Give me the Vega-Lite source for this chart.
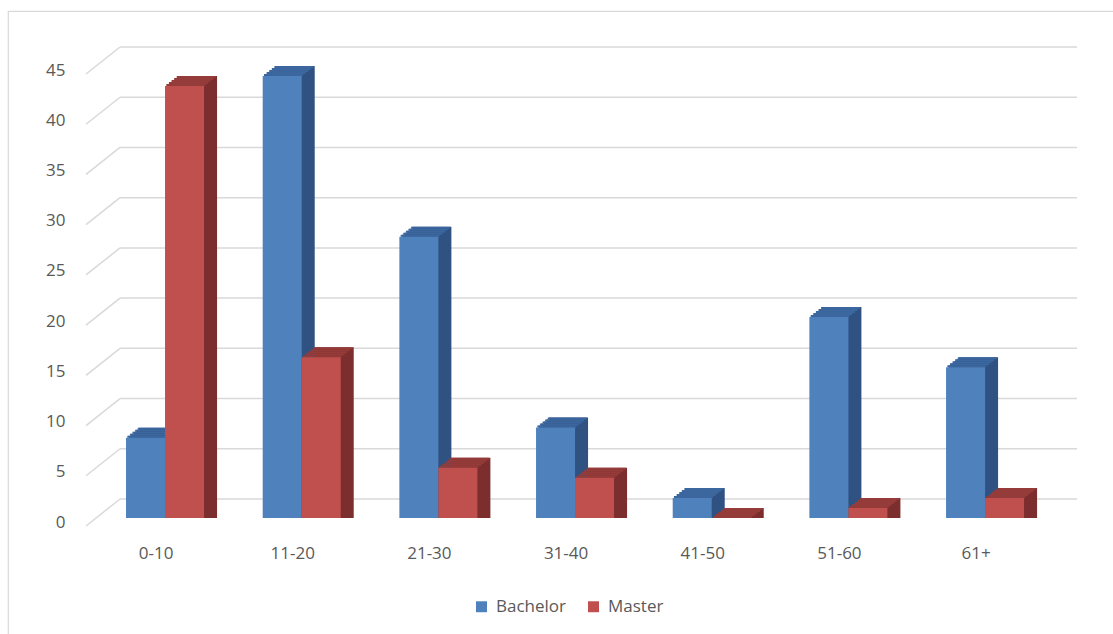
{
  "$schema": "https://vega.github.io/schema/vega-lite/v6.json",
  "width": 1110,
  "height": 628,
  "autosize": {"type": "none"},
  "padding": {"left": 8, "top": 11, "right": 0, "bottom": 0},
  "background": "white",
  "config": {
    "view": {"stroke": "#d9d9d9", "strokeWidth": 1.2},
    "font": "Open Sans",
    "axisX": {"domain": false, "ticks": false, "tickSize": 0, "grid": false, "labelPadding": 9, "offset": -103, "labelOffset": -9, "labelAngle": 0, "labelFontSize": 17, "labelColor": "#595959", "labelFont": "Open Sans"},
    "axisY": {"domain": false, "ticks": false, "tickSize": 0, "grid": false, "labelPadding": 1, "offset": -58, "labelOffset": 4, "labelFontSize": 17, "labelColor": "#595959", "labelFont": "Open Sans"}
  },
  "datasets": {
    "bars": [
      {"c": "0-10", "s": "Bachelor", "v": 8},
      {"c": "0-10", "s": "Master", "v": 43},
      {"c": "11-20", "s": "Bachelor", "v": 44},
      {"c": "11-20", "s": "Master", "v": 16},
      {"c": "21-30", "s": "Bachelor", "v": 28},
      {"c": "21-30", "s": "Master", "v": 5},
      {"c": "31-40", "s": "Bachelor", "v": 9},
      {"c": "31-40", "s": "Master", "v": 4},
      {"c": "41-50", "s": "Bachelor", "v": 2},
      {"c": "41-50", "s": "Master", "v": 0},
      {"c": "51-60", "s": "Bachelor", "v": 20},
      {"c": "51-60", "s": "Master", "v": 1},
      {"c": "61+", "s": "Bachelor", "v": 15},
      {"c": "61+", "s": "Master", "v": 2}
    ],
    "grid": [{"v": 0}, {"v": 5}, {"v": 10}, {"v": 15}, {"v": 20}, {"v": 25}, {"v": 30}, {"v": 35}, {"v": 40}, {"v": 45}]
  },
  "layer": [
    {
      "data": {"name": "grid"},
      "mark": {"type": "rule", "color": "#d9d9d9", "strokeWidth": 1.5, "xOffset": -6, "x2Offset": 53, "yOffset": -19},
      "encoding": {
        "x": {"datum": "0-10", "type": "nominal", "bandPosition": 0, "title": null, "scale": {"domain": ["0-10", "11-20", "21-30", "31-40", "41-50", "51-60", "61+"], "range": [88.7, 1045.4], "paddingInner": 0.429, "paddingOuter": 0.2145}},
        "x2": {"datum": "61+", "bandPosition": 1},
        "y": {"field": "v", "type": "quantitative", "title": null, "scale": {"domain": [0, 45], "range": [507, 55], "nice": false}}
      }
    },
    {
      "data": {"name": "grid"},
      "mark": {"type": "rule", "color": "#d9d9d9", "strokeWidth": 1.5, "xOffset": -40, "x2Offset": -6, "yOffset": 8, "y2Offset": -19},
      "encoding": {
        "x": {"datum": "0-10", "type": "nominal", "bandPosition": 0, "title": null},
        "x2": {"datum": "0-10", "bandPosition": 0},
        "y": {"field": "v", "type": "quantitative", "title": null},
        "y2": {"field": "v"}
      }
    },
    {
      "data": {"name": "bars"},
      "mark": {"type": "bar", "width": {"band": 0.5}, "xOffset": {"expr": "(datum.s === 'Bachelor' ? -19.5 : 19.5) + 2.6"}, "yOffset": -2, "y2Offset": -2},
      "encoding": {
        "x": {"field": "c", "type": "nominal", "title": null},
        "y": {"field": "v", "type": "quantitative", "title": null, "stack": null},
        "color": {"condition": {"test": "datum.s === 'Bachelor'", "value": "#2f5282"}, "value": "#7b2e2d"}
      }
    },
    {
      "data": {"name": "bars"},
      "mark": {"type": "bar", "width": {"band": 0.5}, "xOffset": {"expr": "(datum.s === 'Bachelor' ? -19.5 : 19.5) + 5.2"}, "yOffset": -4, "y2Offset": -4},
      "encoding": {
        "x": {"field": "c", "type": "nominal", "title": null},
        "y": {"field": "v", "type": "quantitative", "title": null, "stack": null},
        "color": {"condition": {"test": "datum.s === 'Bachelor'", "value": "#2f5282"}, "value": "#7b2e2d"}
      }
    },
    {
      "data": {"name": "bars"},
      "mark": {"type": "bar", "width": {"band": 0.5}, "xOffset": {"expr": "(datum.s === 'Bachelor' ? -19.5 : 19.5) + 7.8"}, "yOffset": -6, "y2Offset": -6},
      "encoding": {
        "x": {"field": "c", "type": "nominal", "title": null},
        "y": {"field": "v", "type": "quantitative", "title": null, "stack": null},
        "color": {"condition": {"test": "datum.s === 'Bachelor'", "value": "#2f5282"}, "value": "#7b2e2d"}
      }
    },
    {
      "data": {"name": "bars"},
      "mark": {"type": "bar", "width": {"band": 0.5}, "xOffset": {"expr": "(datum.s === 'Bachelor' ? -19.5 : 19.5) + 10.4"}, "yOffset": -8, "y2Offset": -8},
      "encoding": {
        "x": {"field": "c", "type": "nominal", "title": null},
        "y": {"field": "v", "type": "quantitative", "title": null, "stack": null},
        "color": {"condition": {"test": "datum.s === 'Bachelor'", "value": "#2f5282"}, "value": "#7b2e2d"}
      }
    },
    {
      "data": {"name": "bars"},
      "mark": {"type": "bar", "width": {"band": 0.5}, "xOffset": {"expr": "(datum.s === 'Bachelor' ? -19.5 : 19.5) + 13"}, "yOffset": -10, "y2Offset": -10},
      "encoding": {
        "x": {"field": "c", "type": "nominal", "title": null},
        "y": {"field": "v", "type": "quantitative", "title": null, "stack": null},
        "color": {"condition": {"test": "datum.s === 'Bachelor'", "value": "#2f5282"}, "value": "#7b2e2d"}
      }
    },
    {
      "data": {"name": "bars"},
      "mark": {"type": "bar", "width": {"band": 0.5}, "xOffset": {"expr": "(datum.s === 'Bachelor' ? -19.5 : 19.5) + 1.3"}, "yOffset": -2, "y2Offset": 0},
      "encoding": {
        "x": {"field": "c", "type": "nominal", "title": null},
        "y": {"field": "v", "type": "quantitative", "title": null, "stack": null},
        "y2": {"field": "v"},
        "color": {"condition": {"test": "datum.s === 'Bachelor'", "value": "#3b669e"}, "value": "#953b39"}
      }
    },
    {
      "data": {"name": "bars"},
      "mark": {"type": "bar", "width": {"band": 0.5}, "xOffset": {"expr": "(datum.s === 'Bachelor' ? -19.5 : 19.5) + 3.9"}, "yOffset": -4, "y2Offset": -2},
      "encoding": {
        "x": {"field": "c", "type": "nominal", "title": null},
        "y": {"field": "v", "type": "quantitative", "title": null, "stack": null},
        "y2": {"field": "v"},
        "color": {"condition": {"test": "datum.s === 'Bachelor'", "value": "#3b669e"}, "value": "#953b39"}
      }
    },
    {
      "data": {"name": "bars"},
      "mark": {"type": "bar", "width": {"band": 0.5}, "xOffset": {"expr": "(datum.s === 'Bachelor' ? -19.5 : 19.5) + 6.5"}, "yOffset": -6, "y2Offset": -4},
      "encoding": {
        "x": {"field": "c", "type": "nominal", "title": null},
        "y": {"field": "v", "type": "quantitative", "title": null, "stack": null},
        "y2": {"field": "v"},
        "color": {"condition": {"test": "datum.s === 'Bachelor'", "value": "#3b669e"}, "value": "#953b39"}
      }
    },
    {
      "data": {"name": "bars"},
      "mark": {"type": "bar", "width": {"band": 0.5}, "xOffset": {"expr": "(datum.s === 'Bachelor' ? -19.5 : 19.5) + 9.1"}, "yOffset": -8, "y2Offset": -6},
      "encoding": {
        "x": {"field": "c", "type": "nominal", "title": null},
        "y": {"field": "v", "type": "quantitative", "title": null, "stack": null},
        "y2": {"field": "v"},
        "color": {"condition": {"test": "datum.s === 'Bachelor'", "value": "#3b669e"}, "value": "#953b39"}
      }
    },
    {
      "data": {"name": "bars"},
      "mark": {"type": "bar", "width": {"band": 0.5}, "xOffset": {"expr": "(datum.s === 'Bachelor' ? -19.5 : 19.5) + 11.7"}, "yOffset": -10, "y2Offset": -8},
      "encoding": {
        "x": {"field": "c", "type": "nominal", "title": null},
        "y": {"field": "v", "type": "quantitative", "title": null, "stack": null},
        "y2": {"field": "v"},
        "color": {"condition": {"test": "datum.s === 'Bachelor'", "value": "#3b669e"}, "value": "#953b39"}
      }
    },
    {
      "data": {"name": "bars"},
      "mark": {"type": "bar", "width": {"band": 0.5}, "xOffset": {"expr": "datum.s === 'Bachelor' ? -19.5 : 19.5"}},
      "encoding": {
        "x": {"field": "c", "type": "nominal", "title": null},
        "y": {"field": "v", "type": "quantitative", "title": null, "stack": null, "axis": {"values": [0, 5, 10, 15, 20, 25, 30, 35, 40, 45]}},
        "color": {"field": "s", "type": "nominal", "scale": {"domain": ["Bachelor", "Master"], "range": ["#4f81bd", "#c0504d"]}, "legend": {"title": null, "orient": "none", "legendX": 465, "legendY": 587, "direction": "horizontal", "symbolType": "square", "symbolSize": 120, "symbolStrokeWidth": 0, "labelFontSize": 17, "labelColor": "#595959", "labelFont": "Open Sans", "columnPadding": 18, "labelOffset": 6}}
      }
    }
  ]
}
